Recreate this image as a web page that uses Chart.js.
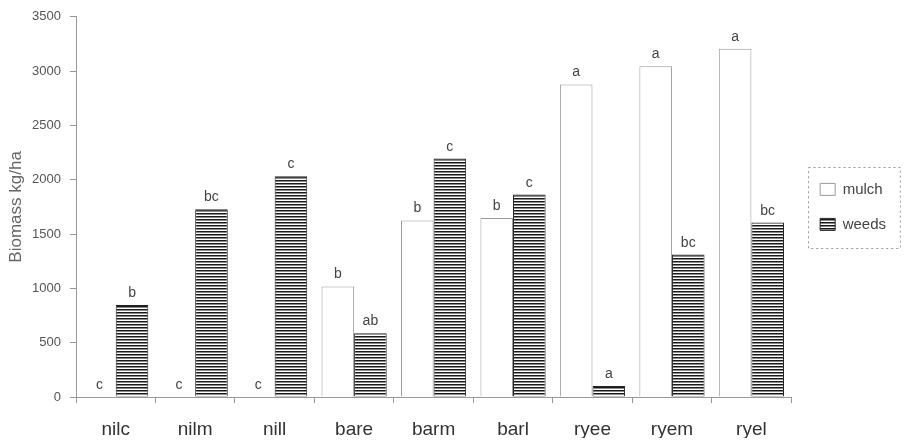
<!DOCTYPE html>
<html>
<head>
<meta charset="utf-8">
<script src="https://cdn.jsdelivr.net/npm/chart.js@4/dist/chart.umd.min.js"></script>
<style>
  html, body { margin: 0; padding: 0; background: #fff; }
  #wrap { width: 904px; height: 441px; }
</style>
</head>
<body>
<div id="wrap"><canvas id="biomass"></canvas></div>
<script>
// ── data ────────────────────────────────────────────────────────────────────
const categories   = ['nilc', 'nilm', 'nill', 'bare', 'barm', 'barl', 'ryee', 'ryem', 'ryel'];
const mulchValues  = [0, 0, 0, 1018, 1625, 1648, 2877, 3045, 3206];
const weedsValues  = [846, 1728, 2033, 586, 2195, 1863, 101, 1311, 1606];
const mulchLetters = ['c', 'c', 'c', 'b', 'b', 'b', 'a', 'a', 'a'];
const weedsLetters = ['b', 'bc', 'c', 'ab', 'c', 'c', 'a', 'bc', 'bc'];
const yTicks       = [0, 500, 1000, 1500, 2000, 2500, 3000, 3500];

const FONT = "'Liberation Sans', Arial, sans-serif";

// horizontal hatch used for the weeds bars
function stripePattern() {
  const c = document.createElement('canvas');
  c.width = 4; c.height = 3;
  const g = c.getContext('2d');
  g.fillStyle = '#fff';    g.fillRect(0, 0, 4, 3);
  g.fillStyle = '#1a1a1a'; g.fillRect(0, 0, 4, 1);
  g.fillStyle = '#8a8a8a'; g.fillRect(0, 1, 4, 1);
  return g.createPattern(c, 'repeat');
}

// significance letters above each bar
const letterPlugin = {
  id: 'letters',
  afterDatasetsDraw(chart) {
    const ctx = chart.ctx;
    const sets = [mulchLetters, weedsLetters];
    ctx.save();
    ctx.font = `14px ${FONT}`;
    ctx.fillStyle = '#444';
    ctx.textAlign = 'center';
    ctx.textBaseline = 'alphabetic';
    sets.forEach((letters, di) => {
      chart.getDatasetMeta(di).data.forEach((bar, i) => {
        ctx.fillText(letters[i], bar.x, bar.y - 8);
      });
    });
    ctx.restore();
  }
};

// dashed frame round the legend
const legendFrame = {
  id: 'legendFrame',
  afterDraw(chart) {
    const boxes = chart.legend && chart.legend.legendHitBoxes;
    if (!boxes || !boxes.length) return;
    const first = boxes[0], last = boxes[boxes.length - 1];
    const x0 = first.left - 12, x1 = 900;
    const y0 = first.top - 15, y1 = last.top + last.height + 16;
    const ctx = chart.ctx;
    ctx.save();
    ctx.strokeStyle = '#999';
    ctx.lineWidth = 1;
    ctx.setLineDash([2, 3]);
    ctx.strokeRect(Math.round(x0) + 0.5, Math.round(y0) + 0.5, x1 - x0, y1 - y0);
    ctx.restore();
  }
};

new Chart(document.getElementById('biomass'), {
  type: 'bar',
  data: {
    labels: categories,
    datasets: [
      {
        label: 'mulch', data: mulchValues,
        backgroundColor: '#fff', borderColor: '#9a9a9a', borderWidth: 1,
        categoryPercentage: 0.82, barPercentage: 1.0
      },
      {
        label: 'weeds', data: weedsValues,
        backgroundColor: stripePattern(), borderColor: '#222', borderWidth: 1,
        categoryPercentage: 0.82, barPercentage: 1.0
      }
    ]
  },
  options: {
    responsive: true, maintainAspectRatio: false, animation: false,
    layout: { padding: { left: 4, right: 8, top: 16, bottom: 3 } },
    plugins: {
      legend: {
        position: 'right', fullSize: false,
        labels: {
          boxWidth: 15, boxHeight: 12, padding: 20, color: '#444',
          font: { family: FONT, size: 15 }
        }
      },
      tooltip: { enabled: false }
    },
    scales: {
      x: {
        afterFit: s => { s.height = 41; },
        grid: { display: true, drawOnChartArea: false, tickLength: 6, color: '#999' },
        border: { display: true, color: '#999', dash: [2, 3] },
        ticks: { color: '#333', padding: 15, font: { family: FONT, size: 19 } }
      },
      y: {
        min: 0, max: 3500,
        afterBuildTicks: s => { s.ticks = yTicks.map(v => ({ value: v })); },
        afterFit: s => { s.width = 72; },
        grid: { display: true, drawOnChartArea: false, tickLength: 6, color: '#999' },
        border: { display: true, color: '#999', dash: [2, 3] },
        ticks: { color: '#555', padding: 9, font: { family: FONT, size: 13 }, callback: v => String(v) },
        title: {
          display: true, text: 'Biomass kg/ha', color: '#666',
          padding: { top: 2, bottom: 4 }, font: { family: FONT, size: 17 }
        }
      },
      gap: {
        type: 'linear', position: 'right', display: true,
        grid: { display: false }, border: { display: false }, ticks: { display: false },
        afterFit: s => { s.width = 9; }
      }
    }
  },
  plugins: [letterPlugin, legendFrame]
});
</script>
</body>
</html>
